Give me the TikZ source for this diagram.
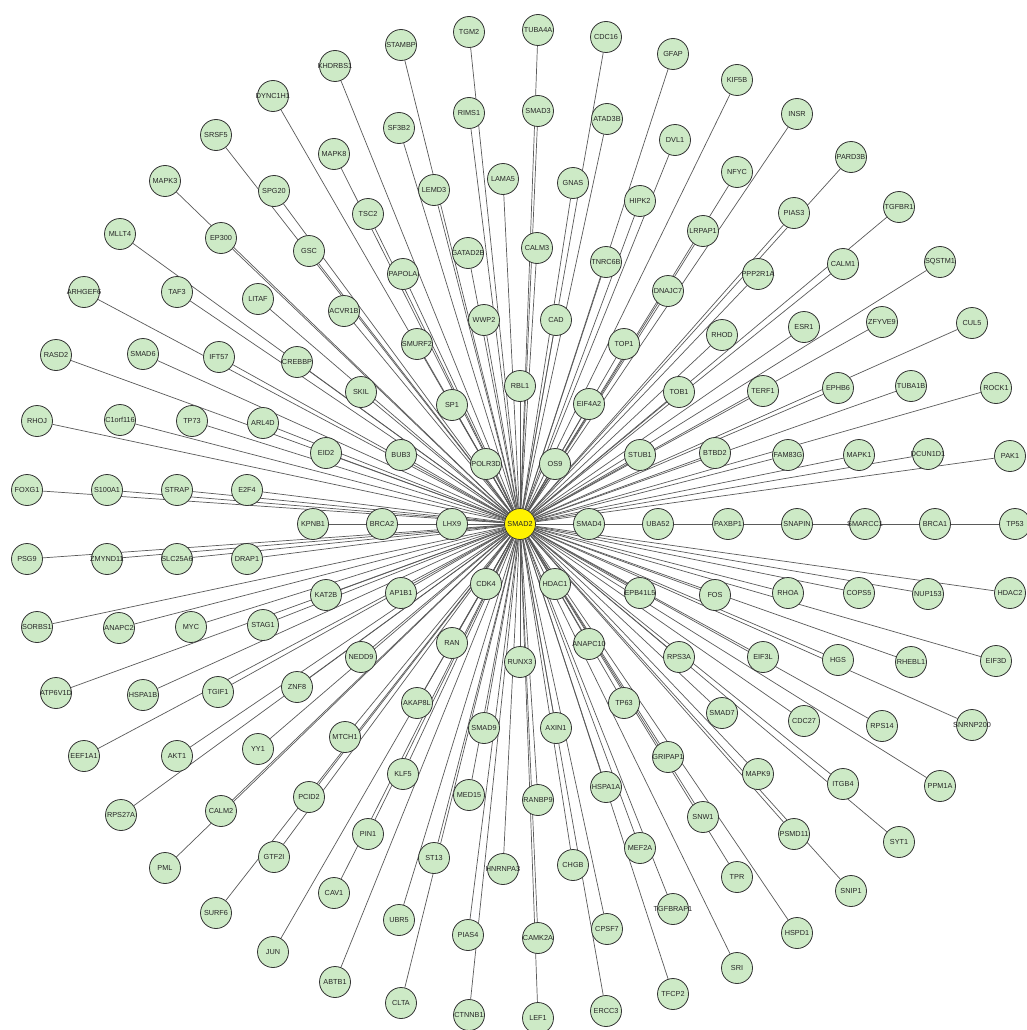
\documentclass[tikz,border=0pt]{standalone}
\usepackage{fontspec}
\setmainfont{Liberation Sans}
\usetikzlibrary{backgrounds}
\definecolor{nodefill}{HTML}{CDEAC6}
\definecolor{edgecol}{HTML}{5A5A5A}
\definecolor{bordercol}{HTML}{333333}
\def\genelist{KHDRBS1/335/66, DYNC1H1/273/96, SRSF5/216/135, MAPK8/334/154, MAPK3/165/181, SPG20/274/191, MLLT4/120/234, EP300/221/238, GSC/309/251, ARHGEF6/84/292, TAF3/177/292, LITAF/258/299, ACVR1B/344/311, STAMBP/401/45, TGM2/469/32, TUBA4A/538/30, CDC16/606/37, GFAP/673/54, RIMS1/469/113, SMAD3/538/111, ATAD3B/607/119, SF3B2/399/128, DVL1/675/140, LEMD3/434/190, LAMA5/503/179, GNAS/573/183, HIPK2/640/201, TSC2/368/214, CALM3/537/248, GATAD2B/468/253, TNRC6B/606/262, PAPOLA/403/274, DNAJC7/668/291, WWP2/484/320, CAD/556/320, SMURF2/417/344, TOP1/624/344, KIF5B/737/80, INSR/797/114, NFYC/737/172, PARD3B/851/157, PIAS3/794/213, TGFBR1/899/207, LRPAP1/703/231, CALM1/843/264, SQSTM1/940/262, PPP2R1A/758/274, RHOD/722/335, ESR1/804/327, ZFYVE9/882/322, CUL5/972/323, RASD2/56/355, SMAD6/143/354, IFT57/219/357, CREBBP/297/362, RHOJ/37/421, C1orf116/120/420, TP73/192/421, ARL4D/263/423, EID2/326/453, FOXG1/27/490, S100A1/107/490, STRAP/177/490, E2F4/247/490, KPNB1/313/524, PSG9/27/559, ZMYND11/107/559, SLC25A6/177/559, DRAP1/247/559, KAT2B/326/595, SORBS1/37/627, ANAPC2/119/628, MYC/191/627, STAG1/263/625, RBL1/520/386, SKIL/361/392, SP1/452/405, EIF4A2/589/404, TOB1/679/392, BUB3/401/455, POLR3D/486/464, OS9/555/464, STUB1/640/455, BRCA2/382/524, LHX9/452/524, SMAD4/589/524, UBA52/658/524, AP1B1/401/593, CDK4/486/584, HDAC1/555/584, EPB41L5/640/593, RAN/452/643, RUNX3/520/662, ANAPC10/589/644, NEDD9/361/657, RPS3A/679/657, TERF1/763/391, EPHB6/838/388, TUBA1B/911/386, ROCK1/996/388, BTBD2/715/453, FAM83G/788/455, MAPK1/859/455, DCUN1D1/928/454, PAK1/1010/456, PAXBP1/728/524, SNAPIN/797/524, SMARCC1/865/524, BRCA1/935/524, TP53/1015/524, FOS/715/595, RHOA/788/593, COPS5/859/593, NUP153/928/594, HDAC2/1010/593, EIF3L/763/657, HGS/838/660, RHEBL1/911/662, EIF3D/996/661, ATP6V1D/56/693, HSPA1B/143/695, TGIF1/218/692, ZNF8/297/687, EEF1A1/84/756, AKT1/177/756, YY1/258/749, MTCH1/345/737, RPS27A/121/815, CALM2/221/811, PCID2/309/797, PML/165/868, GTF2I/274/857, CAV1/334/893, SURF6/216/913, JUN/273/952, ABTB1/335/982, AKAP8L/417/703, TP63/624/703, SMAD9/484/728, AXIN1/556/728, GRIPAP1/668/757, KLF5/403/774, MED15/469/795, RANBP9/538/800, HSPA1A/606/787, PIN1/368/834, ST13/434/858, HNRNPA3/503/869, CHGB/573/865, MEF2A/640/848, UBR5/399/920, PIAS4/468/935, CAMK2A/538/938, CPSF7/607/929, TGFBRAP1/673/909, CLTA/401/1003, CTNNB1/469/1015, LEF1/538/1018, ERCC3/606/1011, TFCP2/673/994, SMAD7/722/713, CDC27/804/721, RPS14/882/726, SNRNP200/972/725, MAPK9/758/774, ITGB4/843/784, PPM1A/940/786, SNW1/703/817, PSMD11/794/834, SYT1/899/842, TPR/737/877, SNIP1/851/891, HSPD1/797/933, SRI/737/968}
\begin{document}
\begin{tikzpicture}[x=1pt,y=-1pt,
  gene/.style={circle,draw=bordercol,line width=0.8pt,fill=nodefill,minimum size=31pt,inner sep=0pt,
    font=\fontsize{7.3}{8}\selectfont,text=black!85},
  hub/.style={gene,fill=yellow},
  edge/.style={draw=edgecol,line width=0.7pt}]
\useasboundingbox (0,0) rectangle (1026,1030);
\node[hub] (SMAD2) at (520,524) {\makebox[0pt]{SMAD2}};
\foreach \n/\x/\y in \genelist {
  \node[gene] (\n) at (\x,\y) {\makebox[0pt]{\n}};
}
\begin{pgfonlayer}{background}
\fill[white] (0,0) rectangle (1026,1030);
\foreach \n/\x/\y in \genelist {
  \draw[edge] (SMAD2) -- (\n);
}
\end{pgfonlayer}
\end{tikzpicture}
\end{document}
